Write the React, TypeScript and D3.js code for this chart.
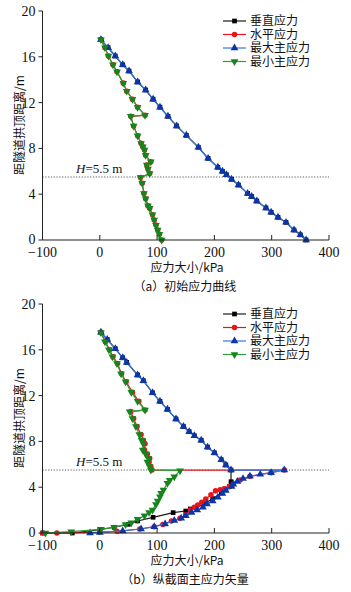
import React from "react";
import * as d3 from "d3";

type P = [number, number];

const xTicks = [-100, 0, 100, 200, 300, 400];
const yTicks = [0, 4, 8, 12, 16, 20];
const seriesNames = ["垂直应力", "水平应力", "最大主应力", "最小主应力"];
const captions = ["（a）初始应力曲线", "（b）纵截面主应力矢量"];
const xTitle = "应力大小/kPa";
const yTitle = "距隧道拱顶距离/m";
const crownDepth = 5.5;

// (a) initial stresses
const initMax: P[] = [
  [2, 17.5], [14.5, 16.8], [27, 16.07], [40, 15.3], [51, 14.76], [66, 13.8], [80, 13.1],
  [93, 12.3], [105, 11.6], [119, 10.8], [134, 9.96], [151, 9.14], [172, 8.1], [189, 7.13],
  [206, 6.35], [214, 6.0], [221, 5.7], [230, 5.3], [242, 4.8], [258, 4.07], [265, 3.8],
  [274, 3.4], [290, 2.8], [299, 2.42], [311, 1.98], [325, 1.54], [339, 0.87], [350, 0.45], [360, 0],
];
const initVertical: P[] = initMax;
const initMin: P[] = [
  [2, 17.5], [9, 16.8], [15, 16.07], [23, 15.3], [30, 14.7], [41, 13.7], [47, 13.0],
  [57, 12.3], [66, 11.6], [79, 10.9], [54, 10.8], [59, 9.96], [66, 9.1], [72, 8.44],
  [75, 8.15], [78, 7.86], [80, 7.4], [89, 6.84], [82, 6.55], [84, 6.2], [87, 5.8],
  [71, 5.45], [74, 4.95], [77, 4.07], [80, 3.6], [84, 3.0], [87, 2.77], [92, 2.2],
  [95, 1.75], [98, 1.3], [101, 0.87], [104, 0.5], [108, 0],
];
const initHorizontal: P[] = initMin;

// (b) longitudinal section
const secMax: P[] = [
  [2, 17.53], [13, 16.9], [27, 16.1], [40, 15.3], [47, 14.9], [66, 13.8], [76, 13.3],
  [92, 12.25], [105, 11.5], [118, 10.8], [133, 9.96], [146, 9.3], [156, 8.85], [165, 8.5],
  [177, 8.1], [188, 7.5], [200, 7.0], [212, 6.4], [220, 5.94], [229, 5.5],
  [322, 5.5], [299, 5.27], [280, 5.12], [262, 4.95], [250, 4.75], [240, 4.5], [233, 4.25],
  [230, 4.05], [220, 3.72], [214, 3.45], [206, 3.12], [197, 2.8], [187, 2.53], [180, 2.24],
  [170, 2.0], [160, 1.8], [150, 1.5], [142, 1.28], [130, 1.1], [114, 0.79], [95, 0.55],
  [72, 0.35], [40, 0.18], [0, 0.05], [-17, 0],
];
const secVertical: P[] = [
  [2, 17.53], [13, 16.9], [27, 16.1], [40, 15.3], [47, 14.9], [66, 13.8], [76, 13.3],
  [92, 12.25], [105, 11.5], [118, 10.8], [133, 9.96], [146, 9.3], [156, 8.85], [165, 8.5],
  [177, 8.1], [188, 7.5], [200, 7.0], [212, 6.4], [220, 5.94], [229, 5.5],
  [229, 4.48], [226, 4.05], [212, 3.5], [197, 3.0], [182, 2.55], [168, 2.2], [158, 2.1],
  [150, 1.92], [128, 1.78], [93, 1.37], [66, 1.05], [50, 0.76], [25, 0.5], [0, 0.3],
  [-48, 0], [-100, 0],
];
const secHorizontal: P[] = [
  [2, 17.5], [10, 16.7], [17, 16.0], [23, 15.4], [31, 14.8], [38, 13.9], [46, 13.2],
  [57, 12.3], [68, 11.5], [79, 10.75], [54, 10.6], [59, 10.0], [65, 9.3], [72, 8.6],
  [76, 8.1], [79, 7.8], [78, 7.25], [83, 6.9], [87, 6.5], [86, 6.2], [89, 5.8], [91, 5.5],
  [322, 5.5], [299, 5.27], [262, 4.95], [245, 4.62], [233, 4.3], [226, 4.05], [217, 3.86],
  [210, 3.78], [202, 3.68], [194, 3.35], [185, 2.96], [178, 2.68], [171, 2.45], [165, 2.24],
  [158, 2.0], [150, 1.6], [140, 1.28], [125, 1.05], [110, 0.75], [95, 0.55], [70, 0.35],
  [30, 0.15], [0, 0.08], [-75, 0], [-100, 0],
];
const secMin: P[] = [
  [2, 17.5], [9, 16.7], [16, 16.0], [22, 15.4], [30, 14.8], [37, 13.9], [45, 13.2],
  [55, 12.3], [66, 11.5], [79, 10.75], [52, 10.6], [57, 10.0], [63, 9.3], [69, 8.6],
  [73, 8.1], [76, 7.8], [75, 7.25], [80, 6.9], [85, 6.5], [83, 6.2], [87, 5.8], [89, 5.5],
  [140, 5.44], [130, 4.92], [122, 4.6], [118, 4.34], [111, 3.76], [107, 3.47], [105, 3.17],
  [101, 2.8], [98, 2.5], [92, 2.0], [86, 1.8], [78, 1.5], [66, 1.2], [55, 0.9], [45, 0.75],
  [25, 0.5], [2, 0.32], [-50, 0.12], [-95, 0],
];

const styles = [
  { line: "#1a1a1a", fill: "#000000", shape: d3.symbolSquare, size: 22, rot: 0 },
  { line: "#e8141c", fill: "#e8141c", shape: d3.symbolCircle, size: 24, rot: 0 },
  { line: "#2f78dc", fill: "#0b35a8", shape: d3.symbolTriangle, size: 26, rot: 0 },
  { line: "#2e9e36", fill: "#17841c", shape: d3.symbolTriangle, size: 26, rot: 180 },
];

const NUM_FONT = "'Liberation Serif', 'DejaVu Serif', serif";
const CJK_FONT = "'Noto Sans CJK SC', 'Noto Sans', sans-serif";

function Panel({ top, data, caption }: { top: number; data: P[][]; caption: string }) {
  const x = d3.scaleLinear().domain([-100, 400]).range([42.5, 329]);
  const y = d3.scaleLinear().domain([0, 20]).range([top + 229, top]);
  const line = d3.line<P>().x((d) => x(d[0])).y((d) => y(d[1]));
  const y0 = y(0);
  const legendX = 223;
  const legendY = top + 10;
  return (
    <g>
      {/* dotted crown line */}
      <line x1={x(-100)} x2={x(400)} y1={y(crownDepth)} y2={y(crownDepth)} stroke="#444" strokeWidth={0.9} strokeDasharray="1.2,1.6" />
      <text x={76} y={y(crownDepth) - 4} fontFamily={NUM_FONT} fontSize={13} fill="#111">
        <tspan fontStyle="italic">H</tspan>=5.5 m
      </text>
      {/* series */}
      {data.map((s, i) => (
        <g key={i}>
          <path d={line(s) || ""} fill="none" stroke={styles[i].line} strokeWidth={1.2} />
          {s.map((d, j) => (
            <path
              key={j}
              d={d3.symbol().type(styles[i].shape).size(styles[i].size)() || ""}
              transform={`translate(${x(d[0])},${y(d[1])}) rotate(${styles[i].rot})`}
              fill={styles[i].fill}
            />
          ))}
        </g>
      ))}
      {/* axes */}
      <line x1={x(-100)} x2={x(-100)} y1={y(20)} y2={y0} stroke="#222" strokeWidth={1} />
      <line x1={x(-100)} x2={x(400)} y1={y0} y2={y0} stroke="#222" strokeWidth={1} />
      {yTicks.map((t) => (
        <g key={"y" + t}>
          <line x1={x(-100) - 4} x2={x(-100)} y1={y(t)} y2={y(t)} stroke="#222" />
          <text x={x(-100) - 7} y={y(t) - (t === 0 ? 1 : 0)} dy="0.35em" textAnchor="end" fontFamily={NUM_FONT} fontSize={14} fill="#111">
            {t}
          </text>
        </g>
      ))}
      {xTicks.map((t) => (
        <g key={"x" + t}>
          <line x1={x(t)} x2={x(t)} y1={y0} y2={y0 - 5} stroke="#222" />
          <text x={x(t)} y={y0 + 17} textAnchor="middle" fontFamily={NUM_FONT} fontSize={14} fill="#111">
            {t < 0 ? "−" + Math.abs(t) : t}
          </text>
        </g>
      ))}
      <text x={187} y={y0 + 32} textAnchor="middle" fontFamily={CJK_FONT} fontSize={12} fill="#111">
        {xTitle}
      </text>
      <text x={185} y={y0 + 51} textAnchor="middle" fontFamily={CJK_FONT} fontSize={12} fill="#111">
        {caption}
      </text>
      <text
        transform={`translate(20,${top + 114}) rotate(-90)`}
        textAnchor="middle"
        dy="0.35em"
        fontFamily={CJK_FONT}
        fontSize={12}
        fill="#111"
      >
        {yTitle}
      </text>
      {/* legend */}
      {seriesNames.map((n, i) => (
        <g key={n} transform={`translate(${legendX},${legendY + i * 13.5})`}>
          <line x1={0} x2={23} y1={0} y2={0} stroke={styles[i].line} strokeWidth={1.2} />
          <path
            d={d3.symbol().type(styles[i].shape).size(styles[i].size)() || ""}
            transform={`translate(11.5,0) rotate(${styles[i].rot})`}
            fill={styles[i].fill}
          />
          <text x={27} y={0} dy="0.36em" fontFamily={CJK_FONT} fontSize={12} fill="#111">
            {n}
          </text>
        </g>
      ))}
    </g>
  );
}

export default function App() {
  return (
    <svg width={351} height={592} style={{ position: "absolute", left: 0, top: 0, background: "#fff" }}>
      <rect width={351} height={592} fill="#fff" />
      <Panel top={11} data={[initVertical, initHorizontal, initMax, initMin]} caption={captions[0]} />
      <Panel top={304} data={[secVertical, secHorizontal, secMax, secMin]} caption={captions[1]} />
    </svg>
  );
}
